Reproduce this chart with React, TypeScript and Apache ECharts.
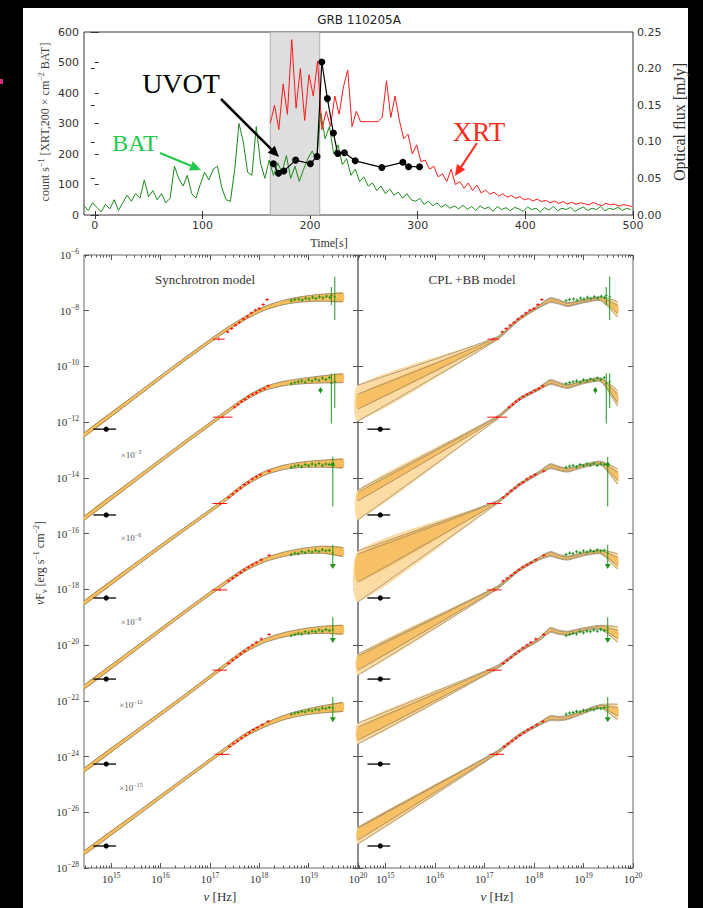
import React, { useEffect, useRef } from "react";
import * as echarts from "echarts";

// ---------------- Top panel: light curves ----------------
const TIME_TICKS = [0, 100, 200, 300, 400, 500];
const COUNT_TICKS_MAX = 600;
const FLUX_MAX = 0.25;
const SHADE = [163, 209];

const BAT_T0 = -10;
const BAT_DT = 4;
const BAT_COUNTS = [30, 15, 40, 25, 10, 35, 20, 50, 15, 40, 65, 45, 70, 55, 115, 60, 80, 50, 70, 40, 55, 160, 120, 95, 130, 70, 55, 100, 140, 115, 150, 160, 90, 50, 45, 150, 300, 240, 140, 130, 290, 170, 120, 180, 130, 170, 140, 195, 120, 160, 110, 150, 185, 210, 180, 335, 250, 290, 200, 230, 165, 185, 130, 150, 110, 125, 95, 105, 80, 95, 70, 85, 65, 75, 55, 70, 50, 45, 55, 35, 45, 30, 40, 25, 35, 22, 30, 20, 32, 18, 28, 15, 30, 20, 26, 12, 28, 18, 24, 14, 25, 20, 12, 26, 18, 22, 10, 24, 16, 28, 14, 22, 18, 25, 12, 20, 26, 15, 22, 18, 28, 14, 22, 18, 25, 15, 22, 18];

const XRT_T0 = 163;
const XRT_DT = 4;
const XRT_COUNTS = [300, 360, 280, 430, 330, 575, 350, 480, 310, 460, 390, 505, 280, 340, 290, 390, 330, 420, 475, 290, 340, 306, 306, 306, 306, 306, 320, 440, 320, 390, 310, 250, 265, 200, 230, 175, 180, 150, 160, 125, 135, 110, 150, 100, 110, 88, 105, 80, 98, 72, 82, 68, 75, 62, 70, 58, 64, 55, 60, 50, 54, 46, 52, 44, 48, 40, 46, 38, 44, 36, 42, 35, 40, 37, 33, 41, 35, 31, 38, 33, 36, 29, 34, 31, 28];

const UVOT_T = [165.9, 170.7, 175.6, 186.6, 200.3, 206.5, 210.9, 216.1, 221.7, 225.7, 231.9, 241.9, 266.7, 286.2, 291.5, 301.7];
const UVOT_FLUX = [0.070, 0.057, 0.060, 0.075, 0.070, 0.080, 0.209, 0.159, 0.112, 0.084, 0.085, 0.074, 0.065, 0.072, 0.066, 0.066];

// ---------------- Bottom panels: SEDs (log10 units) ----------------
const NU_TICKS = [15, 16, 17, 18, 19, 20];
const NU_MIN = 14.45;
const NU_MAX = 20;
const F_MIN = -28;
const F_MAX = -6;
const SCALE_EXP = ["−3", "−6", "−9", "−12", "−15"];

// Synchrotron model (left panel)
const SYN_NU = [14.45, 15.5, 16.4, 16.9, 17.3, 17.7, 18.1, 18.5, 18.9, 19.3, 19.7];
const SYN_F = [
  [-12.46, -11.06, -9.86, -9.22, -8.72, -8.28, -7.92, -7.70, -7.58, -7.53, -7.52],
  [-15.45, -14.05, -12.85, -12.20, -11.68, -11.18, -10.80, -10.61, -10.52, -10.46, -10.42],
  [-18.49, -17.11, -15.95, -15.32, -14.80, -14.25, -13.84, -13.62, -13.52, -13.49, -13.48],
  [-21.51, -20.12, -18.93, -18.28, -17.78, -17.30, -16.95, -16.74, -16.62, -16.58, -16.66],
  [-24.49, -23.12, -21.95, -21.28, -20.74, -20.22, -19.85, -19.63, -19.51, -19.45, -19.45],
  [-27.46, -26.10, -24.92, -24.27, -23.75, -23.25, -22.88, -22.60, -22.42, -22.30, -22.22],
];
const SYN_W = [0.08, 0.07, 0.06, 0.06, 0.06, 0.06, 0.07, 0.08, 0.10, 0.13, 0.16];

// CPL + BB model (right panel)
const CPL_NU = [14.45, 17.25, 17.7, 18.1, 18.33, 18.5, 18.68, 19.0, 19.35, 19.69];
const CPL_F = [
  [-11.28, -9.00, -8.30, -7.85, -7.62, -7.68, -7.78, -7.66, -7.57, -7.95],
  [-14.65, -11.85, -11.18, -10.80, -10.56, -10.64, -10.72, -10.56, -10.48, -11.15],
  [-17.23, -14.88, -14.25, -13.82, -13.58, -13.66, -13.72, -13.57, -13.47, -13.95],
  [-20.65, -17.95, -17.30, -16.90, -16.73, -16.82, -16.88, -16.74, -16.66, -17.00],
  [-23.20, -20.80, -20.22, -19.80, -19.46, -19.54, -19.57, -19.44, -19.36, -19.62],
  [-26.80, -23.86, -23.24, -22.84, -22.62, -22.64, -22.60, -22.40, -22.20, -22.40],
];
// [outer up, outer low, inner up, inner low] at the low-frequency end
const CPL_LEFT = [
  [0.61, 0.68, 0.29, 0.25],
  [0.22, 0.86, 0.14, 0.18],
  [0.61, 1.22, 0.50, 0.51],
  [0.33, 0.43, 0.26, 0.25],
  [0.40, 0.35, 0.26, 0.21],
  [0.27, 0.34, 0.23, 0.20],
];
const CPL_OUT_W = [0, 0.06, 0.05, 0.05, 0.09, 0.08, 0.07, 0.06, 0.07, 0.28];
const CPL_IN_W = [0, 0.03, 0.03, 0.03, 0.05, 0.04, 0.04, 0.03, 0.04, 0.15];

// XRT data [logNu, logF, (xerr)]
const XRT_SPEC = [
  [[17.18, -9.02, 0.12], [17.36, -8.76], [17.44, -8.64], [17.52, -8.52], [17.60, -8.42], [17.68, -8.30], [17.76, -8.20], [17.84, -8.08], [17.92, -7.98], [18.00, -7.92], [18.08, -7.78], [18.16, -7.60]],
  [[17.26, -11.82, 0.2], [17.50, -11.46], [17.57, -11.36], [17.64, -11.26], [17.71, -11.18], [17.78, -11.08], [17.86, -11.00], [17.94, -10.94], [18.02, -10.86], [18.10, -10.80], [18.18, -10.70]],
  [[17.20, -14.92, 0.15], [17.38, -14.70], [17.46, -14.58], [17.54, -14.46], [17.62, -14.36], [17.70, -14.24], [17.78, -14.16], [17.86, -14.04], [17.94, -13.96], [18.02, -13.88], [18.20, -13.76]],
  [[17.20, -18.02, 0.15], [17.38, -17.70], [17.46, -17.60], [17.54, -17.50], [17.62, -17.40], [17.70, -17.30], [17.78, -17.20], [17.86, -17.12], [17.94, -17.04], [18.04, -16.94], [18.20, -16.78]],
  [[17.20, -20.90, 0.15], [17.38, -20.66], [17.46, -20.54], [17.54, -20.44], [17.62, -20.32], [17.70, -20.22], [17.78, -20.10], [17.86, -20.00], [17.94, -19.90], [18.04, -19.78], [18.20, -19.62]],
  [[17.25, -23.92, 0.15], [17.40, -23.64], [17.48, -23.54], [17.56, -23.44], [17.64, -23.34], [17.72, -23.24], [17.80, -23.14], [17.88, -23.04], [17.96, -22.96], [18.06, -22.86], [18.18, -22.74]],
];

// BAT data [logNu, logF]
const BAT_SPEC = [
  [[18.65, -7.64], [18.72, -7.60], [18.80, -7.58], [18.87, -7.62], [18.94, -7.55], [19.01, -7.58], [19.08, -7.52], [19.15, -7.56], [19.22, -7.50], [19.29, -7.54], [19.36, -7.48], [19.43, -7.52]],
  [[18.65, -10.62], [18.72, -10.58], [18.79, -10.55], [18.86, -10.52], [18.93, -10.56], [19.00, -10.48], [19.07, -10.52], [19.14, -10.45], [19.21, -10.50], [19.28, -10.42], [19.35, -10.47], [19.42, -10.40]],
  [[18.65, -13.62], [18.72, -13.58], [18.79, -13.55], [18.86, -13.60], [18.93, -13.52], [19.00, -13.56], [19.07, -13.50], [19.14, -13.54], [19.21, -13.48], [19.28, -13.55], [19.35, -13.50], [19.42, -13.52]],
  [[18.65, -16.75], [18.72, -16.70], [18.79, -16.72], [18.86, -16.65], [18.93, -16.68], [19.00, -16.62], [19.07, -16.66], [19.14, -16.60], [19.21, -16.64], [19.28, -16.58], [19.35, -16.62], [19.42, -16.60]],
  [[18.65, -19.66], [18.72, -19.62], [18.79, -19.58], [18.86, -19.60], [18.93, -19.52], [19.00, -19.56], [19.07, -19.50], [19.14, -19.52], [19.21, -19.46], [19.28, -19.50], [19.35, -19.44], [19.42, -19.48]],
  [[18.65, -22.48], [18.72, -22.44], [18.79, -22.42], [18.86, -22.38], [18.93, -22.40], [19.00, -22.34], [19.07, -22.36], [19.14, -22.30], [19.21, -22.32], [19.28, -22.26], [19.35, -22.28], [19.42, -22.24]],
];
// big BAT error bars [logNu, logF, errLow, errHigh, marker(0 none,1 dot,2 upper-limit arrow)]
const BAT_BIG = [
  [[19.46, -7.45, 0.35, 0.30, 0], [19.53, -7.50, 0.83, 0.72, 0]],
  [[19.24, -10.85, 0.12, 0.10, 1], [19.46, -10.60, 1.44, 0.35, 0], [19.53, -10.55, 0.94, 0.30, 0]],
  [[19.49, -13.52, 1.50, 0.28, 1]],
  [[19.49, -16.70, 0.50, 0.30, 2]],
  [[19.49, -19.45, 0.40, 0.45, 2]],
  [[19.49, -22.25, 0.45, 0.38, 2]],
];
// UVOT optical points [logNu, logF]
const UVOT_SPEC = [[14.9, -12.25], [14.9, -15.33], [14.9, -18.31], [14.9, -21.22], [14.9, -24.27], [14.9, -27.21]];

const SERIF = "Liberation Serif";
const SANS = "DejaVu Sans";

function arrow(x1: number, y1: number, x2: number, y2: number, color: string, lw: number) {
  const a = Math.atan2(y2 - y1, x2 - x1);
  const L = 11;
  const hw = 5;
  const bx = x2 - L * Math.cos(a);
  const by = y2 - L * Math.sin(a);
  const nx = -Math.sin(a);
  const ny = Math.cos(a);
  return [
    { type: "line", z: 100, shape: { x1, y1, x2: bx, y2: by }, style: { stroke: color, lineWidth: lw } },
    { type: "polygon", z: 100, shape: { points: [[x2, y2], [bx + nx * hw, by + ny * hw], [bx - nx * hw, by - ny * hw]] }, style: { fill: color } },
  ];
}

function txt(x: number, y: number, text: string, o: any = {}) {
  const { rotation, ...st } = o;
  return {
    type: "text",
    x,
    y,
    rotation: rotation || 0,
    z: 100,
    style: {
      text,
      fontFamily: SERIF,
      fontSize: 12,
      fill: "#222",
      align: "center",
      textAlign: "center",
      verticalAlign: "middle",
      textVerticalAlign: "middle",
      ...st,
    },
  };
}

const supRich = (size: number, color: string) => ({
  s: { fontSize: size, fontFamily: SERIF, fill: color, color, padding: [0, 0, size, 0] },
  sub: { fontSize: size, fontFamily: SERIF, fill: color, color, padding: [size, 0, 0, 0] },
  i: { fontSize: size + 4, fontFamily: SERIF, fontStyle: "italic", fill: color, color },
});

function pts(api: any, xs: number[], ys: number[]) {
  return xs.map((x, i) => api.coord([x, ys[i]]));
}

function synBand(params: any, api: any) {
  const k = api.value(2);
  const c = SYN_F[k];
  const up = c.map((v, i) => v + SYN_W[i]);
  const lo = c.map((v, i) => v - SYN_W[i]);
  const top = pts(api, SYN_NU, up);
  const bot = pts(api, SYN_NU, lo);
  return {
    type: "group",
    children: [
      { type: "polygon", shape: { points: top.concat(bot.slice().reverse()), smooth: 0.25 }, style: { fill: "#f5bd5c", stroke: "none" } },
      { type: "polyline", shape: { points: top, smooth: 0.25 }, style: { stroke: "#8c7a5c", lineWidth: 0.8, fill: "none" } },
      { type: "polyline", shape: { points: bot, smooth: 0.25 }, style: { stroke: "#8c7a5c", lineWidth: 0.8, fill: "none" } },
    ],
  };
}

function cplBand(params: any, api: any) {
  const k = api.value(2);
  const c = CPL_F[k];
  const L = CPL_LEFT[k];
  const ou = c.map((v, i) => v + (i === 0 ? L[0] : CPL_OUT_W[i]));
  const ol = c.map((v, i) => v - (i === 0 ? L[1] : CPL_OUT_W[i]));
  const iu = c.map((v, i) => v + (i === 0 ? L[2] : CPL_IN_W[i]));
  const il = c.map((v, i) => v - (i === 0 ? L[3] : CPL_IN_W[i]));
  const OU = pts(api, CPL_NU, ou);
  const OL = pts(api, CPL_NU, ol);
  const IU = pts(api, CPL_NU, iu);
  const IL = pts(api, CPL_NU, il);
  const edge = (p: any) => ({ type: "polyline", shape: { points: p, smooth: 0.2 }, style: { stroke: "#8f7f64", lineWidth: 0.7, fill: "none" } });
  return {
    type: "group",
    children: [
      { type: "polygon", shape: { points: OU.concat(OL.slice().reverse()), smooth: 0.2 }, style: { fill: "#fcdca4", stroke: "none" } },
      { type: "polygon", shape: { points: IU.concat(IL.slice().reverse()), smooth: 0.2 }, style: { fill: "#f7c064", stroke: "none" } },
      edge(OU), edge(OL), edge(IU), edge(IL),
    ],
  };
}

function errRenderer(color: string, lw: number, r: number) {
  return (params: any, api: any) => {
    const x = api.value(0);
    const y = api.value(1);
    const xl = api.value(2);
    const xr = api.value(3);
    const yl = api.value(4);
    const yh = api.value(5);
    const mk = api.value(6);
    const p = api.coord([x, y]);
    const pl = api.coord([x - xl, y]);
    const pr = api.coord([x + xr, y]);
    const pb = api.coord([x, y - yl]);
    const pt = api.coord([x, y + yh]);
    const children: any[] = [
      { type: "line", shape: { x1: pl[0], y1: pl[1], x2: pr[0], y2: pr[1] }, style: { stroke: color, lineWidth: lw } },
      { type: "line", shape: { x1: pt[0], y1: pt[1], x2: pb[0], y2: pb[1] }, style: { stroke: color, lineWidth: lw } },
    ];
    if (mk === 1) children.push({ type: "circle", shape: { cx: p[0], cy: p[1], r }, style: { fill: color } });
    if (mk === 2)
      children.push({ type: "polygon", shape: { points: [[pb[0] - 3, pb[1] - 3], [pb[0] + 3, pb[1] - 3], [pb[0], pb[1] + 2]] }, style: { fill: color } });
    return { type: "group", children };
  };
}

export default function App() {
  const ref = useRef<HTMLDivElement>(null);
  useEffect(() => {
    if (!ref.current) return;
    const chart = echarts.init(ref.current, undefined, { renderer: "svg" });

    const batData = BAT_COUNTS.map((v, i) => [BAT_T0 + i * BAT_DT, v]);
    const xrtData = XRT_COUNTS.map((v, i) => [XRT_T0 + i * XRT_DT, v]);
    const uvotData = UVOT_T.map((t, i) => [t, UVOT_FLUX[i]]);

    const bandItems = SYN_F.map((_, k) => [17, -10, k]);
    const redData: any[] = [];
    XRT_SPEC.forEach((s) => s.forEach((p) => {
      const xe = p[2] !== undefined ? p[2] : 0.035;
      redData.push([p[0], p[1], xe, xe, 0.05, 0.05, 0]);
    }));
    const greenData: any[] = [];
    BAT_SPEC.forEach((s) => s.forEach((p) => greenData.push([p[0], p[1], 0.03, 0.03, 0.06, 0.06, 0])));
    BAT_BIG.forEach((s) => s.forEach((p) => greenData.push([p[0], p[1], 0.025, 0.025, p[2], p[3], p[4]])));
    const blackData = UVOT_SPEC.map((p) => [p[0], p[1], 0.26, 0.2, 0.07, 0.07, 1]);

    const minor: number[] = [];
    for (let n = 14; n < 20; n++) for (let m = 2; m <= 9; m++) {
      const v = n + Math.log10(m);
      if (v > NU_MIN && v < NU_MAX) minor.push(v);
    }

    const tickCol = "#555";
    const bottomX = (grid: number) => [
      {
        gridIndex: grid, type: "value", min: NU_MIN, max: NU_MAX, position: "bottom",
        axisLine: { show: false }, splitLine: { show: false },
        axisTick: { inside: true, length: 5, customValues: NU_TICKS, lineStyle: { color: tickCol } },
        axisLabel: {
          customValues: NU_TICKS, margin: 3, fontFamily: SERIF,
          formatter: (v: number) => `{b|10}{s|${v}}`,
          rich: { b: { fontSize: 11, fontFamily: SERIF, color: "#333" }, s: { fontSize: 7.5, fontFamily: SERIF, color: "#333", padding: [0, 0, 7, 0] } },
        },
      },
      {
        gridIndex: grid, type: "value", min: NU_MIN, max: NU_MAX, position: "bottom",
        axisLine: { show: false }, splitLine: { show: false }, axisLabel: { show: false },
        axisTick: { inside: true, length: 2.5, customValues: minor, lineStyle: { color: tickCol } },
      },
      {
        gridIndex: grid, type: "value", min: NU_MIN, max: NU_MAX, position: "top",
        axisLine: { show: false }, splitLine: { show: false }, axisLabel: { show: false },
        axisTick: { inside: true, length: 5, customValues: NU_TICKS, lineStyle: { color: tickCol } },
      },
      {
        gridIndex: grid, type: "value", min: NU_MIN, max: NU_MAX, position: "top",
        axisLine: { show: false }, splitLine: { show: false }, axisLabel: { show: false },
        axisTick: { inside: true, length: 2.5, customValues: minor, lineStyle: { color: tickCol } },
      },
    ];
    const sedY = (grid: number, pos: string, labels: boolean) => ({
      gridIndex: grid, type: "value", min: F_MIN, max: F_MAX, interval: 2, position: pos,
      axisLine: { show: false }, splitLine: { show: false },
      axisTick: { inside: true, length: 5, lineStyle: { color: tickCol } },
      axisLabel: labels
        ? {
            margin: 5,
            formatter: (v: number) => `{b|10}{s|−${-v}}`,
            rich: { b: { fontSize: 11, fontFamily: SERIF, color: "#333" }, s: { fontSize: 7.5, fontFamily: SERIF, color: "#333", padding: [0, 0, 7, 0] } },
          }
        : { show: false },
    });

    const sr = supRich(8, "#444");
    const scaleLabels = SCALE_EXP.map((e, i) =>
      txt(131, 455 + i * 83.3, `×10{s|${e}}`, { fontSize: 9, fill: "#555", rich: supRich(6, "#555") })
    );

    const graphicEls: any[] = [
      { type: "rect", z: 100, shape: { x: 0, y: 0, width: 23, height: 908 }, style: { fill: "#000" } },
      { type: "rect", z: 100, shape: { x: 688, y: 0, width: 15, height: 908 }, style: { fill: "#000" } },
      { type: "rect", z: 100, shape: { x: 0, y: 0, width: 703, height: 8 }, style: { fill: "#000" } },
      { type: "rect", z: 101, shape: { x: 0, y: 79, width: 3, height: 5 }, style: { fill: "#d0307a" } },
      txt(359, 20, "GRB 110205A", { fontFamily: SANS, fontSize: 12 }),
      txt(329, 243, "Time[s]", { fontSize: 12, fill: "#333" }),
      txt(45, 122, "count s{s|−1} [XRT,200 × cm{s|−2} BAT]", { rotation: Math.PI / 2, fontSize: 12, fill: "#444", rich: sr }),
      txt(679, 122, "Optical flux [mJy]", { rotation: Math.PI / 2, fontSize: 16, fill: "#333" }),
      txt(181, 83, "UVOT", { fontSize: 28, fill: "#000" }),
      txt(135, 143, "BAT", { fontSize: 24, fill: "#22c84a" }),
      txt(479, 132, "XRT", { fontSize: 27, fill: "#ff2a1a" }),
      ...arrow(221, 99, 279, 157, "#000", 2.5),
      ...arrow(160, 153, 201, 170, "#22c84a", 2),
      ...arrow(477, 143, 455, 176, "#ff2a1a", 2),
      txt(205, 279, "Synchrotron model", { fontSize: 13, fill: "#333" }),
      txt(472, 279, "CPL +BB model", { fontSize: 13, fill: "#333" }),
      ...scaleLabels,
      txt(220, 896, "{i|ν} [Hz]", { fontSize: 13, fill: "#333", rich: supRich(9, "#333") }),
      txt(497, 896, "{i|ν} [Hz]", { fontSize: 13, fill: "#333", rich: supRich(9, "#333") }),
      txt(40, 563, "{i|ν}F{sub|ν} [erg s{s|−1} cm{s|−2}]", { rotation: Math.PI / 2, fontSize: 12, fill: "#333", rich: supRich(8, "#333") }),
    ];

    const option: any = {
      animation: false,
      backgroundColor: "#fff",
      graphic: { elements: graphicEls },
      grid: [
        { left: 84, top: 32, width: 549, height: 183, show: true, borderColor: "#333", borderWidth: 1, backgroundColor: "transparent" },
        { left: 84, top: 255, width: 274, height: 613, show: true, borderColor: "#666", borderWidth: 1, backgroundColor: "transparent" },
        { left: 358, top: 255, width: 275, height: 613, show: true, borderColor: "#666", borderWidth: 1, backgroundColor: "transparent" },
      ],
      xAxis: [
        {
          gridIndex: 0, type: "value", min: -10, max: 500, position: "bottom",
          axisLine: { show: false }, splitLine: { show: false },
          axisTick: { inside: true, length: 4, customValues: TIME_TICKS, lineStyle: { color: "#333" } },
          axisLabel: { customValues: TIME_TICKS, fontFamily: SANS, fontSize: 11, color: "#333", margin: 5 },
        },
        {
          gridIndex: 0, type: "value", min: -10, max: 500, position: "top",
          axisLine: { show: false }, splitLine: { show: false }, axisLabel: { show: false },
          axisTick: { inside: true, length: 4, customValues: TIME_TICKS, lineStyle: { color: "#333" } },
        },
        ...bottomX(1),
        ...bottomX(2),
      ],
      yAxis: [
        {
          gridIndex: 0, type: "value", min: 0, max: COUNT_TICKS_MAX, interval: 100, position: "left",
          axisLine: { show: false }, splitLine: { show: false },
          axisTick: { inside: true, length: 4, lineStyle: { color: "#333" } },
          axisLabel: { fontFamily: SANS, fontSize: 11, color: "#333", margin: 5 },
        },
        {
          gridIndex: 0, type: "value", min: 0, max: FLUX_MAX, interval: 0.05, position: "right",
          axisLine: { show: false }, splitLine: { show: false },
          axisTick: { inside: true, length: 4, lineStyle: { color: "#333" } },
          axisLabel: { fontFamily: SANS, fontSize: 11, color: "#333", margin: 4, formatter: (v: number) => v.toFixed(2) },
        },
        sedY(1, "left", true),
        sedY(1, "right", false),
        sedY(2, "left", false),
        sedY(2, "right", false),
      ],
      series: [
        {
          type: "line", xAxisIndex: 0, yAxisIndex: 0, data: batData, showSymbol: false, z: 2,
          lineStyle: { color: "#1a8a1a", width: 1 }, itemStyle: { color: "#1a8a1a" },
          markArea: {
            silent: true, z: 1,
            itemStyle: { color: "#dedede", borderColor: "#a0a0a0", borderWidth: 0.8 },
            data: [[{ xAxis: SHADE[0] }, { xAxis: SHADE[1] }]],
          },
        },
        {
          type: "line", xAxisIndex: 0, yAxisIndex: 0, data: xrtData, showSymbol: false, z: 3,
          lineStyle: { color: "#ff1a1a", width: 1 }, itemStyle: { color: "#ff1a1a" },
        },
        {
          type: "line", xAxisIndex: 0, yAxisIndex: 1, data: uvotData, symbol: "circle", symbolSize: 7, z: 4,
          lineStyle: { color: "#000", width: 1.2 }, itemStyle: { color: "#000" },
        },
        { type: "custom", xAxisIndex: 2, yAxisIndex: 2, data: bandItems, renderItem: synBand, encode: { x: 0, y: 1 }, z: 2, silent: true },
        { type: "custom", xAxisIndex: 6, yAxisIndex: 4, data: bandItems, renderItem: cplBand, encode: { x: 0, y: 1 }, z: 2, silent: true },
        { type: "custom", xAxisIndex: 2, yAxisIndex: 2, data: redData, renderItem: errRenderer("#ff1010", 1, 1.5), encode: { x: 0, y: 1 }, z: 3, silent: true },
        { type: "custom", xAxisIndex: 2, yAxisIndex: 2, data: greenData, renderItem: errRenderer("#1e961e", 1, 2), encode: { x: 0, y: 1 }, z: 3, silent: true },
        { type: "custom", xAxisIndex: 2, yAxisIndex: 2, data: blackData, renderItem: errRenderer("#000", 1.3, 2.6), encode: { x: 0, y: 1 }, z: 4, silent: true },
        { type: "custom", xAxisIndex: 6, yAxisIndex: 4, data: redData, renderItem: errRenderer("#ff1010", 1, 1.5), encode: { x: 0, y: 1 }, z: 3, silent: true },
        { type: "custom", xAxisIndex: 6, yAxisIndex: 4, data: greenData, renderItem: errRenderer("#1e961e", 1, 2), encode: { x: 0, y: 1 }, z: 3, silent: true },
        { type: "custom", xAxisIndex: 6, yAxisIndex: 4, data: blackData, renderItem: errRenderer("#000", 1.3, 2.6), encode: { x: 0, y: 1 }, z: 4, silent: true },
      ],
    };
    chart.setOption(option);
    return () => chart.dispose();
  }, []);

  return (
    <div style={{ position: "fixed", left: 0, top: 0, width: 703, height: 908, background: "#000" }}>
      <div ref={ref} style={{ width: 703, height: 908 }} />
    </div>
  );
}
